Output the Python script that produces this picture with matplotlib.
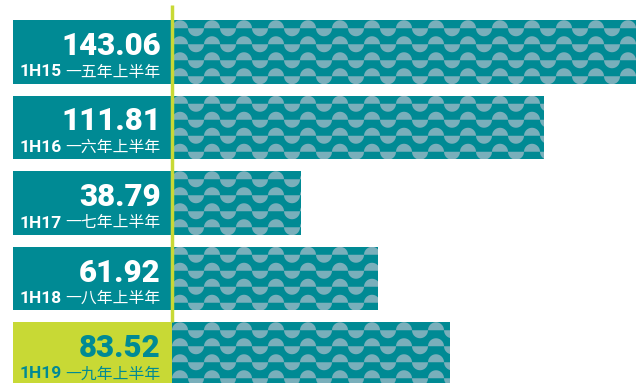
import numpy as np
import matplotlib.pyplot as plt
from matplotlib.patches import Rectangle, Polygon
from matplotlib.collections import PatchCollection

# data
periods = ["1H15", "1H16", "1H17", "1H18", "1H19"]
period_cn = ["一五年上半年", "一六年上半年", "一七年上半年", "一八年上半年", "一九年上半年"]
values = [143.06, 111.81, 38.79, 61.92, 83.52]

TEAL = "#008a94"
LIGHT = "#79afbb"
LIME = "#c8d935"

W, H, DPI = 636, 383, 100
PX_PER_UNIT = 3.328      # x data -> pixels
ROW_PX = 75.5            # spacing between bars in pixels
TOP_PX = 52              # centre of first bar from top
X0_PX = 172              # where zero sits
BAR_H = 63.5 / ROW_PX

fig = plt.figure(figsize=(W / DPI, H / DPI), dpi=DPI)
ax = fig.add_axes([0, 0, 1, 1])
ax.set_xlim(-X0_PX / PX_PER_UNIT, (W - X0_PX) / PX_PER_UNIT)
ax.set_ylim((H - TOP_PX) / ROW_PX, -TOP_PX / ROW_PX)
ax.axis("off")

ux = 1 / PX_PER_UNIT   # one pixel in x units
uy = 1 / ROW_PX        # one pixel in y units
y = np.arange(len(values))

bars = ax.barh(y, values, height=BAR_H, color=TEAL, zorder=1)

# half-circle wave pattern on each bar
r = 8
theta = np.linspace(0, np.pi, 25)
for bar in bars:
    x0 = bar.get_x()
    top = bar.get_y()
    polys = []
    for row in range(4):
        base = top + (8 + 16 * row) * uy
        for k in range(16):
            cx_up = x0 + (8 + 32 * k) * ux
            cx_dn = x0 + (24 + 32 * k) * ux
            up = np.column_stack([cx_up + r * ux * np.cos(theta), base - r * uy * np.sin(theta)])
            dn = np.column_stack([cx_dn + r * ux * np.cos(theta), base + r * uy * np.sin(theta)])
            polys.append(Polygon(up, closed=True))
            polys.append(Polygon(dn, closed=True))
    pc = PatchCollection(polys, facecolor=LIGHT, edgecolor="none", zorder=2)
    ax.add_collection(pc)
    pc.set_clip_path(bar)

# label boxes
box_left = -(X0_PX - 13) / PX_PER_UNIT
for i in range(len(values)):
    last = i == len(values) - 1
    fc = LIME if last else TEAL
    tc = TEAL if last else "white"
    ax.add_patch(Rectangle((box_left, i - BAR_H / 2), -box_left, BAR_H,
                           facecolor=fc, edgecolor="none", zorder=3))
    ax.text(-11 * ux, i + 3 * uy, f"{values[i]:.2f}", ha="right", va="baseline",
            fontsize=22.5, fontweight="black", family="Roboto", color=tc, zorder=4)
    ax.text(-110 * ux, i + 24.5 * uy, periods[i], ha="right", va="baseline",
            fontsize=12.5, fontweight="bold", family="Roboto", color=tc, zorder=4)
    ax.text(-11 * ux, i + 24.5 * uy, period_cn[i], ha="right", va="baseline",
            fontsize=11.4, family=["Noto Sans CJK SC", "DejaVu Sans"], color=tc, zorder=4)

# vertical lime line at zero
ax.plot([-0.5 * ux, -0.5 * ux], [-(TOP_PX - 5) / ROW_PX, len(values) - 1 - BAR_H / 2],
        color=LIME, lw=2.5, zorder=5, solid_capstyle="butt")

fig.savefig("out.png", dpi=DPI)
